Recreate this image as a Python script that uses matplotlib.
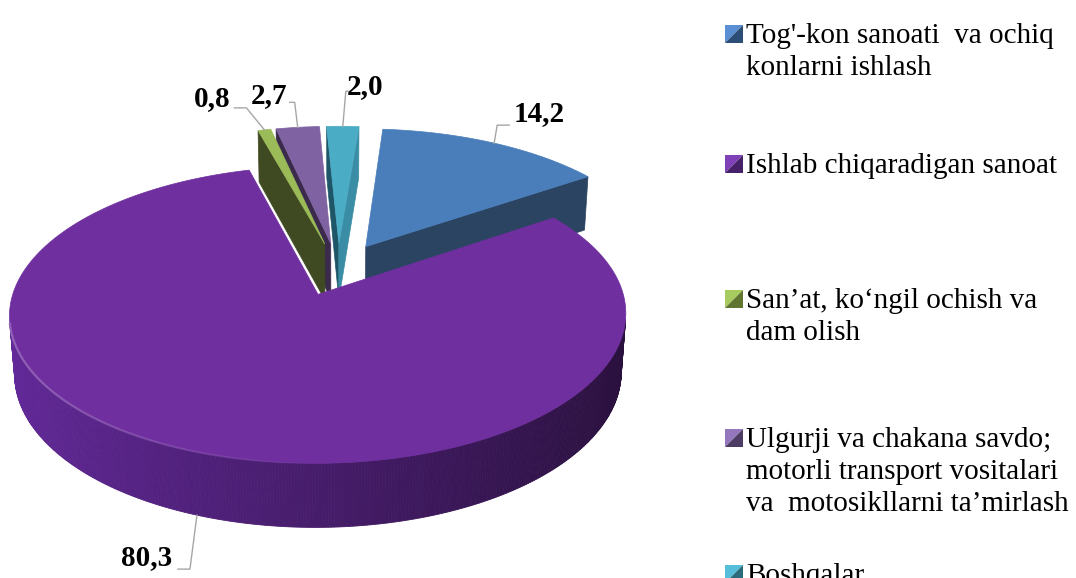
import numpy as np
import matplotlib.pyplot as plt
from matplotlib.patches import Polygon
from matplotlib.collections import LineCollection
from matplotlib.colors import to_rgb

# --- data -------------------------------------------------------------
sectors = [
    "Tog'-kon sanoati  va ochiq\nkonlarni ishlash",
    "Ishlab chiqaradigan sanoat",
    "San\u2019at, ko\u2018ngil ochish va\ndam olish",
    "Ulgurji va chakana savdo;\nmotorli transport vositalari\nva  motosikllarni ta\u2019mirlash",
    "Boshqalar",
]
shares = [14.2, 80.3, 0.8, 2.7, 2.0]

# --- colours ------------------------------------------------------------
top_colors = ['#4A7EBB', '#6F2F9F', '#9BBB59', '#7F62A1', '#4BACC6']
face_a = ['#2A4461', '#3A1A55', '#3F4A22', '#3A2A4C', '#1F5667']
face_b = ['#2A4461', '#2E1444', '#3F4A22', '#3A2A4C', '#3A8DA4']
rim_light = ['#3E6A9E', '#63299A', '#7F9B46', '#6A5388', '#3E8FA5']
rim_dark = ['#1E3147', '#29103C', '#2E3618', '#2A1F38', '#17404D']
legend_light = ['#5A8FD3', '#8040B8', '#A8CB60', '#9477BC', '#55BEDB']
legend_dark = ['#2C4D75', '#47206A', '#5F7530', '#4D3C64', '#2B6B7C']

# --- 3d pie geometry (pixel space) --------------------------------------
cx, cy, scale = 338, 269, 298
tilt = np.radians(27.8)
cam_dist = 6.63
thick = 0.22
explode = 0.19
start = 4.5
cam = np.array([0.0, cam_dist * np.sin(tilt), -cam_dist * np.cos(tilt)])


def proj(x, y, z):
    yp = y * np.cos(tilt) + z * np.sin(tilt)
    zp = z * np.cos(tilt) - y * np.sin(tilt)
    s = cam_dist / (cam_dist + zp)
    return cx + scale * x * s, cy - scale * yp * s


def mix(c1, c2, t):
    a, b = np.array(to_rgb(c1)), np.array(to_rgb(c2))
    return tuple(a + (b - a) * t)


fig = plt.figure(figsize=(10.76, 5.78), dpi=100)
ax = fig.add_axes([0, 0, 1, 1])
ax.set_xlim(0, 1076)
ax.set_ylim(578, 0)
ax.axis('off')

bounds = start + 360 * np.concatenate([[0], np.cumsum(shares)]) / sum(shares)
slices = []
for i in range(len(shares)):
    a1, a2 = bounds[i], bounds[i + 1]
    am = np.radians((a1 + a2) / 2)
    ox, oz = explode * np.sin(am), explode * np.cos(am)
    centre = np.array([ox + 0.5 * np.sin(am), -thick / 2, oz + 0.5 * np.cos(am)])
    slices.append((np.linalg.norm(cam - centre), i, a1, a2, am, ox, oz))

anchors = {}
for dist, i, a1, a2, am, ox, oz in sorted(slices, reverse=True):
    th = np.radians(np.linspace(a1, a2, max(4, int((a2 - a1) * 2))))
    rx, rz = ox + np.sin(th), oz + np.cos(th)
    top = np.column_stack(proj(rx, 0.0, rz))
    bot = np.column_stack(proj(rx, -thick, rz))
    apex_t = proj(ox, 0.0, oz)
    apex_b = proj(ox, -thick, oz)
    to_cam = cam - np.array([ox, 0.0, oz])

    # radial cut faces
    r1, r2 = th[0], th[-1]
    if to_cam[0] * -np.cos(r1) + to_cam[2] * np.sin(r1) > 0:
        ax.add_patch(Polygon([apex_t, top[0], bot[0], apex_b], closed=True,
                             facecolor=face_a[i], edgecolor=face_a[i], lw=0.5))
    if to_cam[0] * np.cos(r2) - to_cam[2] * np.sin(r2) > 0:
        ax.add_patch(Polygon([apex_t, top[-1], bot[-1], apex_b], closed=True,
                             facecolor=face_b[i], edgecolor=face_b[i], lw=0.5))

    # outer curved wall
    hl_segs, hl_cols = [], []
    hl = mix(top_colors[i], '#FFFFFF', 0.35)
    for k in range(len(th) - 1):
        t = (th[k] + th[k + 1]) / 2
        p = np.array([ox + np.sin(t), 0.0, oz + np.cos(t)])
        n = np.array([np.sin(t), 0.0, np.cos(t)])
        if np.dot(cam - p, n) > 0:
            col = mix(rim_light[i], rim_dark[i], (1 + np.sin(t)) / 2)
            ax.add_patch(Polygon([top[k], top[k + 1], bot[k + 1], bot[k]], closed=True,
                                 facecolor=col, edgecolor=col, lw=0.6))
            hl_segs.append([top[k], top[k + 1]])
            hl_cols.append(hl + (max(0.0, -np.sin(t)) * 0.8,))
    if hl_segs:
        ax.add_collection(LineCollection(hl_segs, colors=hl_cols, linewidths=1.6, zorder=3))

    # top face
    ax.add_patch(Polygon(np.vstack([apex_t, top]), closed=True,
                         facecolor=top_colors[i], edgecolor=top_colors[i], lw=0.5, zorder=2))

    mx, mz = ox + np.sin(am), oz + np.cos(am)
    if np.cos(am) < 0:
        anchors[i] = proj(mx, -thick, mz)
    else:
        anchors[i] = proj(mx, 0.0, mz)

# --- data labels with leader lines -------------------------------------
text_off = [(45, -30), (-50, 42), (-52, -31), (-29, -32), (22, -40)]
elbow_off = [(3, -18), (-7, 54), (-18, -22), (-3, -25), (3, -35)]
tail = [12, -12, -12, -5, 4]
for i, v in enumerate(shares):
    axp, ayp = anchors[i]
    ex, ey = axp + elbow_off[i][0], ayp + elbow_off[i][1]
    ax.plot([axp, ex, ex + tail[i]], [ayp, ey, ey], color='#A6A6A6', lw=1.0, zorder=5)
    ax.text(axp + text_off[i][0], ayp + text_off[i][1], f"{v:.1f}".replace('.', ','),
            ha='center', va='center', fontsize=21, fontweight='bold',
            family='Liberation Serif', color='black', zorder=6)

# --- legend -------------------------------------------------------------
leg_x, box, line_gap = 725, 18, 32
baselines = [43, 173, 308, 447, 583]
for i, name in enumerate(sectors):
    yb = baselines[i]
    x0, y0, x1, y1 = leg_x, yb - box, leg_x + box, yb
    ax.add_patch(Polygon([(x0, y0), (x1, y0), (x0, y1)], closed=True,
                         facecolor=legend_light[i], edgecolor='none'))
    ax.add_patch(Polygon([(x1, y0), (x1, y1), (x0, y1)], closed=True,
                         facecolor=legend_dark[i], edgecolor='none'))
    for j, line in enumerate(name.split('\n')):
        ax.text(746, yb + j * line_gap, line, ha='left', va='baseline', fontsize=21,
                family='Liberation Serif', color='black')

fig.savefig('out.png', dpi=100)
